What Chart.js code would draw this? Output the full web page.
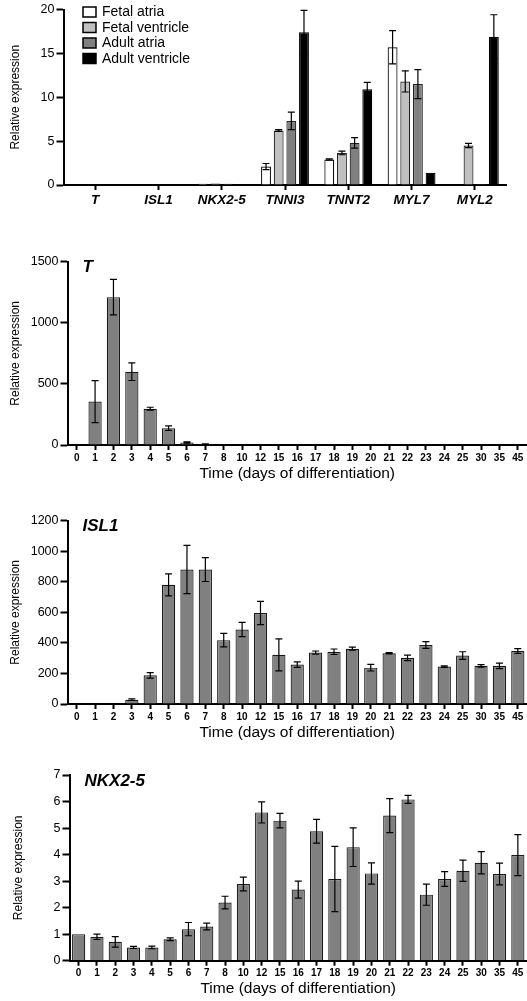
<!DOCTYPE html>
<html>
<head>
<meta charset="utf-8">
<script src="https://cdn.jsdelivr.net/npm/chart.js@4.4.1/dist/chart.umd.min.js"></script>
<style>
  body { margin: 0; background: #fff; width: 527px; height: 1001px; position: relative; overflow: hidden; }
  canvas { position: absolute; left: 0; }
</style>
</head>
<body>
<canvas id="tissue" width="527" height="215" style="top:0px"></canvas>
<canvas id="brachyury" width="527" height="239" style="top:245px"></canvas>
<canvas id="isl1" width="527" height="238" style="top:505px"></canvas>
<canvas id="nkx25" width="527" height="239" style="top:760px"></canvas>
<script>
var FONT = "'Liberation Sans', Arial, sans-serif";

// top panel: tissue samples
var genes = ["T", "ISL1", "NKX2-5", "TNNI3", "TNNT2", "MYL7", "MYL2"];
var fetalAtria = [0, 0, 0.15, 2.1, 2.9, 15.7, 0];
var fetalAtriaErr = [0, 0, 0, 0.35, 0.08, 1.9, 0];
var fetalVentricle = [0, 0, 0.18, 6.2, 3.65, 11.8, 4.5];
var fetalVentricleErr = [0, 0, 0, 0.1, 0.2, 1.2, 0.25];
var adultAtria = [0, 0, 0.15, 7.3, 4.8, 11.5, 0.12];
var adultAtriaErr = [0, 0, 0, 1.0, 0.6, 1.65, 0];
var adultVentricle = [0, 0, 0.02, 17.4, 10.9, 1.38, 16.9];
var adultVentricleErr = [0, 0, 0, 2.5, 0.8, 0, 2.5];

// time course panels
var days = ["0", "1", "2", "3", "4", "5", "6", "7", "8", "10", "12", "15", "16", "17", "18", "19", "20", "21", "22", "23", "24", "25", "30", "35", "45"];
var tExpr = [0, 355, 1210, 600, 297, 138, 20, 8, 3, 0, 0, 0, 0, 0, 0, 2, 0, 0, 0, 0, 0, 0, 0, 0, 0];
var tErr = [0, 172, 145, 72, 12, 18, 5, 2, 1, 0, 0, 0, 0, 0, 0, 0, 0, 0, 0, 0, 0, 0, 0, 0, 0];
var islExpr = [0, 0, 0, 28, 188, 780, 880, 880, 418, 488, 596, 322, 258, 337, 342, 362, 238, 332, 302, 386, 245, 317, 250, 250, 347];
var islErr = [0, 0, 0, 5, 18, 72, 158, 78, 44, 47, 76, 105, 18, 10, 18, 10, 22, 4, 18, 22, 5, 25, 8, 18, 15];
var nkxExpr = [1.0, 0.9, 0.71, 0.5, 0.5, 0.81, 1.19, 1.29, 2.19, 2.89, 5.59, 5.28, 2.68, 4.88, 3.08, 4.28, 3.29, 5.47, 6.08, 2.49, 3.08, 3.39, 3.69, 3.27, 3.98];
var nkxErr = [0, 0.1, 0.2, 0.04, 0.05, 0.05, 0.25, 0.13, 0.24, 0.26, 0.4, 0.27, 0.32, 0.45, 1.23, 0.73, 0.4, 0.64, 0.15, 0.4, 0.28, 0.4, 0.42, 0.41, 0.77];

var errorBars = {
  id: "errorBars",
  afterDatasetsDraw: function (chart, args, opts) {
    var ctx = chart.ctx;
    var y = chart.scales.y;
    var w = opts.cap || 3.5;
    chart.data.datasets.forEach(function (ds, i) {
      if (!ds.errors) return;
      var meta = chart.getDatasetMeta(i);
      meta.data.forEach(function (bar, j) {
        var e = ds.errors[j];
        if (!e) return;
        var v = ds.data[j];
        var top = y.getPixelForValue(v + e);
        var bot = y.getPixelForValue(Math.max(v - e, 0));
        ctx.save();
        ctx.strokeStyle = "#000";
        ctx.lineWidth = 1.2;
        ctx.beginPath();
        ctx.moveTo(bar.x, top); ctx.lineTo(bar.x, bot);
        ctx.moveTo(bar.x - w, top); ctx.lineTo(bar.x + w, top);
        ctx.moveTo(bar.x - w, bot); ctx.lineTo(bar.x + w, bot);
        ctx.stroke();
        ctx.restore();
      });
    });
  }
};

var geneLabel = {
  id: "geneLabel",
  afterDraw: function (chart, args, opts) {
    if (!opts.text) return;
    var ctx = chart.ctx, a = chart.chartArea;
    ctx.save();
    ctx.font = "italic bold 17px " + FONT;
    ctx.fillStyle = "#000";
    ctx.textBaseline = "middle";
    ctx.fillText(opts.text, a.left + 15, a.top + 6);
    ctx.restore();
  }
};

var boxLegend = {
  id: "boxLegend",
  afterDraw: function (chart) {
    var ctx = chart.ctx, a = chart.chartArea;
    ctx.save();
    ctx.font = "14px " + FONT;
    ctx.textBaseline = "middle";
    chart.data.datasets.forEach(function (ds, i) {
      var y = 12 + i * 15.5;
      ctx.fillStyle = ds.backgroundColor;
      ctx.fillRect(a.left + 19.5, y - 5, 13, 10);
      ctx.strokeStyle = "#000";
      ctx.lineWidth = 1.5;
      ctx.strokeRect(a.left + 19.5, y - 5, 13, 10);
      ctx.fillStyle = "#000";
      ctx.fillText(ds.label, a.left + 38.5, y + 0.5);
    });
    ctx.restore();
  }
};

function yAxis(max, step, width, titlePad) {
  return {
    min: 0,
    max: max,
    ticks: {
      stepSize: step, color: "#000", font: { size: 12.5, family: FONT }, padding: 2,
      callback: function (v) { return String(v); }
    },
    grid: { drawOnChartArea: false, tickLength: 7, tickWidth: 2, tickColor: "#000" },
    border: { color: "#000", width: 2 },
    title: {
      display: true, text: "Relative expression", color: "#000",
      font: { size: 12, family: FONT }, padding: { top: titlePad, bottom: 0 }
    },
    afterFit: function (s) { s.width = width; }
  };
}

function xAxis(height, font, showTitle) {
  return {
    offset: true,
    ticks: { color: "#000", font: font, autoSkip: false, maxRotation: 0, padding: 2 },
    grid: { offset: false, drawOnChartArea: false, tickLength: 5, tickWidth: 2, tickColor: "#000" },
    border: { color: "#000", width: 2 },
    title: {
      display: showTitle, text: "Time (days of differentiation)", color: "#000",
      font: { size: 15.5, family: FONT }, padding: { top: 0, bottom: 1 }
    },
    afterFit: function (s) { s.height = height; }
  };
}

function tissueSet(label, data, errors, fill, edge) {
  return {
    label: label, data: data, errors: errors,
    backgroundColor: fill, borderColor: edge, borderWidth: 1.2,
    categoryPercentage: 0.8, barPercentage: 0.78
  };
}

new Chart(document.getElementById("tissue"), {
  type: "bar",
  data: {
    labels: genes,
    datasets: [
      tissueSet("Fetal atria", fetalAtria, fetalAtriaErr, "#ffffff", "#000"),
      tissueSet("Fetal ventricle", fetalVentricle, fetalVentricleErr, "#c0c0c0", "#222"),
      tissueSet("Adult atria", adultAtria, adultAtriaErr, "#808080", "#222"),
      tissueSet("Adult ventricle", adultVentricle, adultVentricleErr, "#000000", "#000")
    ]
  },
  options: {
    responsive: false,
    animation: false,
    layout: { padding: { top: 7, right: 20.5, left: 0, bottom: 0 } },
    plugins: { legend: { display: false }, tooltip: { enabled: false }, errorBars: { cap: 3.5 } },
    scales: {
      x: xAxis(30, { size: 13.5, family: FONT, weight: "bold", style: "italic" }, false),
      y: yAxis(20, 5, 63.5, 8)
    }
  },
  plugins: [errorBars, boxLegend]
});

function timeCourse(id, gene, values, errors, max, step, yWidth, titlePad, top, xHeight) {
  new Chart(document.getElementById(id), {
    type: "bar",
    data: {
      labels: days,
      datasets: [{
        label: gene, data: values, errors: errors,
        backgroundColor: "#808080", borderColor: "#1a1a1a", borderWidth: 1.2,
        categoryPercentage: 1, barPercentage: 0.72
      }]
    },
    options: {
      responsive: false,
      animation: false,
      layout: { padding: { top: top, right: 0, left: 0, bottom: 0 } },
      plugins: {
        legend: { display: false }, tooltip: { enabled: false },
        errorBars: { cap: 3.5 }, geneLabel: { text: gene }
      },
      scales: {
        x: xAxis(xHeight, { size: 10, family: FONT, weight: "bold" }, true),
        y: yAxis(max, step, yWidth, titlePad)
      }
    },
    plugins: [errorBars, geneLabel]
  });
}

timeCourse("brachyury", "T", tExpr, tErr, 1500, 500, 67.5, 8, 16.7, 39);
timeCourse("isl1", "ISL1", islExpr, islErr, 1200, 200, 67.5, 8, 15.7, 39);
timeCourse("nkx25", "NKX2-5", nkxExpr, nkxErr, 7, 1, 69.5, 11, 15, 38.3);
</script>
</body>
</html>
